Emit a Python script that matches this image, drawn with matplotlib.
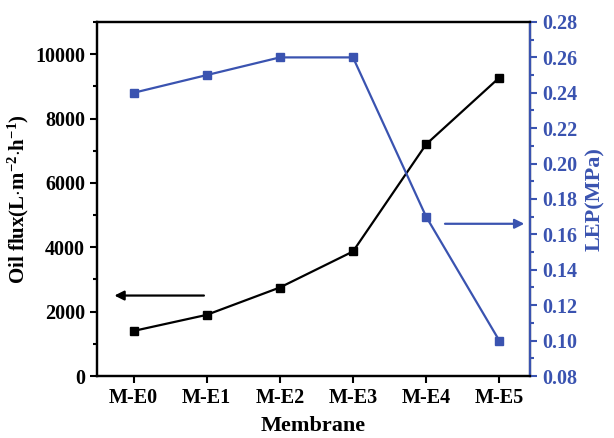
import matplotlib
matplotlib.use("Agg")
import matplotlib.pyplot as plt
from matplotlib.ticker import MultipleLocator

categories = ["M-E0", "M-E1", "M-E2", "M-E3", "M-E4", "M-E5"]
oil_flux = [1400, 1900, 2750, 3870, 7200, 9270]
lep = [0.24, 0.25, 0.26, 0.26, 0.17, 0.10]

plt.rcParams['font.family'] = ['Liberation Serif', 'DejaVu Serif']
plt.rcParams['font.weight'] = 'bold'
plt.rcParams['mathtext.fontset'] = 'custom'
plt.rcParams['mathtext.rm'] = 'Liberation Serif:bold'
plt.rcParams['mathtext.bf'] = 'Liberation Serif:bold'
plt.rcParams['mathtext.it'] = 'Liberation Serif:bold'
plt.rcParams['mathtext.default'] = 'bf'
blue = '#3a53b0'

fig = plt.figure(figsize=(6.14, 4.38), dpi=100)
ax = fig.add_axes([97/614, 1-376/438, (530-97)/614, (376-22)/438])
x = list(range(len(categories)))
ax.plot(x, oil_flux, color='black', marker='s', markersize=6, lw=1.6)
ax.set_xlim(-0.5, 5.42)
ax.set_ylim(0, 11000)
ax.yaxis.set_major_locator(MultipleLocator(2000))
ax.yaxis.set_minor_locator(MultipleLocator(1000))
ax.set_xticks(x)
ax.set_xticklabels(categories)
ax.tick_params(axis='both', which='major', labelsize=14.5, width=1.5, length=5, direction='out')
ax.tick_params(axis='y', which='minor', width=1.5, length=3, direction='out')
for lab in ax.get_xticklabels() + ax.get_yticklabels():
    lab.set_fontweight('bold')
for s in ax.spines.values():
    s.set_linewidth(1.6)
ax.set_xlabel("Membrane", fontsize=16, fontweight='bold', labelpad=6)
ax.set_ylabel(r"Oil flux(L$\cdot$m$^{-2}$$\cdot$h$^{-1}$)", fontsize=15, fontweight='bold', labelpad=3)

ax2 = ax.twinx()
ax2.plot(x, lep, color=blue, marker='s', markersize=6, lw=1.6)
ax2.set_ylim(0.08, 0.28)
ax2.yaxis.set_major_locator(MultipleLocator(0.02))
ax2.yaxis.set_minor_locator(MultipleLocator(0.01))
ax2.tick_params(axis='y', which='major', labelsize=14.5, width=1.5, length=5, colors=blue)
ax2.tick_params(axis='y', which='minor', width=1.5, length=3, colors=blue)
ax2.set_yticks(ax2.get_yticks())
ax2.set_yticklabels([f"{v:.2f}" for v in ax2.get_yticks()])
for lab in ax2.get_yticklabels():
    lab.set_fontweight('bold')
ax2.set_ylim(0.08, 0.28)
ax2.spines['right'].set_color(blue)
for s in ax2.spines.values():
    s.set_linewidth(1.6)
ax2.set_ylabel("LEP(MPa)", fontsize=16, fontweight='bold', color=blue, labelpad=6)

ax.annotate("", xy=(-0.3, 2500), xytext=(1.0, 2500),
            arrowprops=dict(arrowstyle='-|>', color='black', lw=1.6, mutation_scale=14))
ax2.annotate("", xy=(5.38, 0.166), xytext=(4.22, 0.166),
             arrowprops=dict(arrowstyle='-|>', color=blue, lw=1.6, mutation_scale=14))

fig.savefig("out.png", dpi=100)
